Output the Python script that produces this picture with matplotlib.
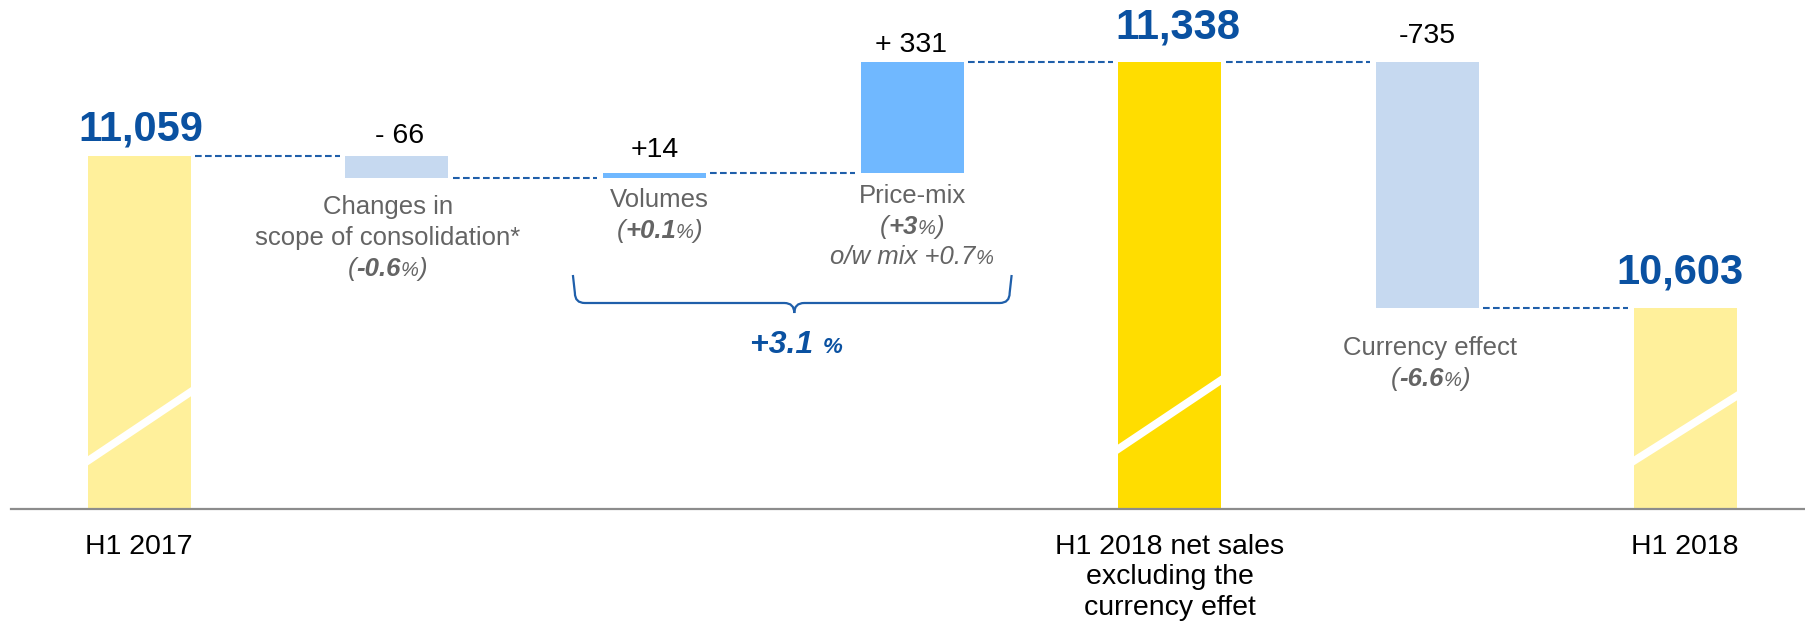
import matplotlib
matplotlib.use("Agg")
import matplotlib.pyplot as plt
from matplotlib.path import Path
from matplotlib.patches import PathPatch
from matplotlib.transforms import IdentityTransform

plt.rcParams['font.family'] = ['Liberation Sans', 'DejaVu Sans']

# ---------------- data ----------------
values = [11059, -66, 14, 331, 11338, -735, 10603]
is_total = [True, False, False, False, True, False, True]
value_labels = ["11,059", "- 66", "+14", "+ 331", "11,338", "-735", "10,603"]
total_names = {0: ["H1 2017"],
               4: ["H1 2018 net sales", "excluding the", "currency effet"],
               6: ["H1 2018"]}
step_names = {1: ["Changes in", "scope of consolidation*"],
              2: ["Volumes"],
              3: ["Price-mix"],
              5: ["Currency effect"]}
step_pcts = {1: "-0.6", 2: "+0.1", 3: "+3", 5: "-6.6"}
mix_pct = "+0.7"
organic_pct = "+3.1"

# ---------------- style ----------------
W, H = 1805, 627
BLUE_TXT = "#0A51A1"
GREY_TXT = "#646464"
DASH_BLUE = "#1F5FAA"
LIGHT_YELLOW = "#FFF09B"
BRIGHT_YELLOW = "#FFDD00"
NEG_BLUE = "#C6D9F0"
POS_BLUE = "#70B8FF"
BW = 0.4

fig = plt.figure(figsize=(W / 100, H / 100), dpi=100)
ax = fig.add_axes([11.5 / W, (H - 509) / H, 1 - 11.5 / W, 509 / H])
ax.set_xlim(-0.495, 6.465)
ax.set_ylim(10005, 11523)

# waterfall geometry
xs = list(range(len(values)))
bottoms, heights, colors, tops, levels = [], [], [], [], []
running = 0
for i, v in enumerate(values):
    if is_total[i]:
        bottoms.append(0)
        heights.append(v)
        running = v
        colors.append(BRIGHT_YELLOW if 0 < i < len(values) - 1 else LIGHT_YELLOW)
        tops.append(v)
    else:
        b = running if v >= 0 else running + v
        bottoms.append(b)
        heights.append(abs(v))
        tops.append(b + abs(v))
        running += v
        colors.append(POS_BLUE if v >= 0 else NEG_BLUE)
    levels.append(running)

bars = ax.bar(xs, heights, bottom=bottoms, width=BW, color=colors, zorder=2, linewidth=0)

# axis-break slashes on the total bars
break_levels = {0: (10148, 10354), 4: (10184, 10390), 6: (10148, 10342)}
for i, (lo, hi) in break_levels.items():
    slope = (hi - lo) / BW
    x0, x1 = xs[i] - BW / 2 - 0.05, xs[i] + BW / 2 + 0.05
    ln, = ax.plot([x0, x1], [lo - slope * 0.05, hi + slope * 0.05], color="white",
                  lw=5.5, solid_capstyle="butt", zorder=3)
    ln.set_clip_path(bars[i])

# dashed connectors
for i in range(len(values) - 1):
    ax.plot([xs[i] + BW / 2 + 0.017, xs[i + 1] - BW / 2 - 0.022], [levels[i], levels[i]],
            color=DASH_BLUE, lw=1.5, dashes=(3.2, 1.6), zorder=2)

for s in ["top", "left", "right"]:
    ax.spines[s].set_visible(False)
ax.spines["bottom"].set_color("#8C8C8C")
ax.spines["bottom"].set_linewidth(1.6)
ax.spines["bottom"].set_zorder(4)
ax.set_xticks([])
ax.set_yticks([])

# value labels above bars
label_gap = [15, 13, 16, 10, 24, 19, 25]
label_dx = [2, 3, 0, -1, 8, 0, -5]
for i in xs:
    if is_total[i]:
        kw = dict(fontsize=30, fontweight="bold", color=BLUE_TXT)
    else:
        kw = dict(fontsize=20.5, color="black")
    ax.annotate(value_labels[i], xy=(xs[i], tops[i]), xytext=(label_dx[i], label_gap[i]),
                textcoords="offset pixels", ha="center", va="baseline", annotation_clip=False, **kw)

renderer = fig.canvas.get_renderer()


def px(x, y):
    return ax.transData.transform((x, y))


def rich_line(xc, yb_top, pieces, color):
    """xc in display px, yb_top baseline in px from top"""
    yb = H - yb_top
    objs = []
    for s, kw in pieces:
        t = fig.text(0, yb, s, color=color, ha="left", va="baseline",
                     transform=IdentityTransform(), **kw)
        objs.append(t)
    widths = [t.get_window_extent(renderer).width for t in objs]
    x = xc - sum(widths) / 2
    for t, w in zip(objs, widths):
        t.set_x(x)
        x += w


REG = dict(fontsize=18.5)
IT = dict(fontsize=18.5, style="italic")
BI = dict(fontsize=18.5, style="italic", fontweight="bold")
PCT = dict(fontsize=14.5, style="italic")

# grey step labels under delta bars
name_offsets = {1: 36, 2: 29, 3: 30, 5: 46.5}
name_dx = {1: -9, 2: 5, 3: 0, 5: 3}
LS = 31
for i, lines in step_names.items():
    xc = px(xs[i], 0)[0] + name_dx[i]
    bottom_px = H - px(xs[i], bottoms[i])[1]
    yb = bottom_px + name_offsets[i]
    for ln in lines:
        rich_line(xc, yb, [(ln, REG)], GREY_TXT)
        yb += LS
    rich_line(xc, yb, [("(", IT), (step_pcts[i], BI), ("%", PCT), (")", IT)], GREY_TXT)
    yb += LS
    if i == 3:
        rich_line(xc, yb - 1, [("o/w mix " + mix_pct, IT), ("%", PCT)], GREY_TXT)

# total bar names below axis
for i, lines in total_names.items():
    xc = px(xs[i], 0)[0]
    yb = 554
    for ln in lines:
        rich_line(xc, yb, [(ln, dict(fontsize=20.5))], "black")
        yb += 30.5

# brace over volumes + price-mix
L = px(xs[2] - BW / 2, 0)[0] - 30
R = px(xs[3] + BW / 2, 0)[0] + 48
C = (L + R) / 2 + 2
yT, yHz, yTip, r = H - 275, H - 303, H - 313, 10
verts = [(L, yT), (L + 2, yHz + r), (L + 2, yHz), (L + 2 + r, yHz), (C - r, yHz), (C, yHz), (C, yTip),
         (C, yHz), (C + r, yHz), (R - 2 - r, yHz), (R - 2, yHz), (R - 2, yHz + r), (R, yT)]
codes = [Path.MOVETO, Path.LINETO, Path.CURVE3, Path.CURVE3, Path.LINETO, Path.CURVE3, Path.CURVE3,
         Path.CURVE3, Path.CURVE3, Path.LINETO, Path.CURVE3, Path.CURVE3, Path.LINETO]
brace = PathPatch(Path(verts, codes), transform=IdentityTransform(), fill=False,
                  edgecolor=DASH_BLUE, lw=1.6)
fig.add_artist(brace)

rich_line(C + 2, 353, [(organic_pct + " ", dict(fontsize=23, style="italic", fontweight="bold")),
                       ("%", dict(fontsize=16, style="italic", fontweight="bold"))], BLUE_TXT)

fig.savefig("out.png", dpi=100)
